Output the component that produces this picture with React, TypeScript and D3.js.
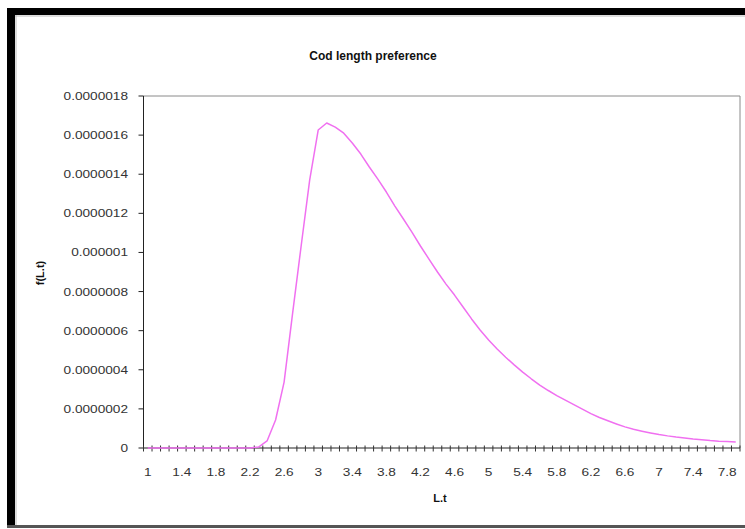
import React from "react";
import * as d3 from "d3";

// Length classes (category axis)
const categories: number[] = [
  1.0, 1.1, 1.2, 1.3, 1.4, 1.5, 1.6, 1.7, 1.8, 1.9,
  2.0, 2.1, 2.2, 2.3, 2.4, 2.5, 2.6, 2.7, 2.8, 2.9,
  3.0, 3.1, 3.2, 3.3, 3.4, 3.5, 3.6, 3.7, 3.8, 3.9,
  4.0, 4.1, 4.2, 4.3, 4.4, 4.5, 4.6, 4.7, 4.8, 4.9,
  5.0, 5.1, 5.2, 5.3, 5.4, 5.5, 5.6, 5.7, 5.8, 5.9,
  6.0, 6.1, 6.2, 6.3, 6.4, 6.5, 6.6, 6.7, 6.8, 6.9,
  7.0, 7.1, 7.2, 7.3, 7.4, 7.5, 7.6, 7.7, 7.8, 7.9,
];

// Preference f(L.t), in units of 1e-6
const preferenceMicro: number[] = [
  0, 0, 0, 0, 0, 0, 0, 0, 0, 0,
  0, 0, 0, 0.005, 0.036, 0.143, 0.337, 0.69, 1.033, 1.37,
  1.626, 1.662, 1.641, 1.61, 1.56, 1.503, 1.437, 1.375, 1.309, 1.237,
  1.171, 1.104, 1.033, 0.966, 0.9, 0.838, 0.782, 0.721, 0.66, 0.603,
  0.552, 0.506, 0.464, 0.425, 0.388, 0.354, 0.322, 0.294, 0.268, 0.245,
  0.222, 0.199, 0.176, 0.156, 0.139, 0.123, 0.108, 0.096, 0.086, 0.077,
  0.069, 0.062, 0.056, 0.051, 0.046, 0.042, 0.038, 0.035, 0.033, 0.031,
];

const yTickValues: number[] = [0, 2e-7, 4e-7, 6e-7, 8e-7, 1e-6, 1.2e-6, 1.4e-6, 1.6e-6, 1.8e-6];
const yTickLabels: string[] = [
  "0", "0.0000002", "0.0000004", "0.0000006", "0.0000008",
  "0.000001", "0.0000012", "0.0000014", "0.0000016", "0.0000018",
];
const xLabelEvery = 4;

const W = 745;
const H = 529;
const plot = { left: 143.5, right: 740, top: 96, bottom: 448 };
const FONT = "'Liberation Sans', Arial, sans-serif";
const STRETCH = 1.3;

export default function App() {
  const values = preferenceMicro.map((v) => v * 1e-6);

  const step = (plot.right - plot.left) / categories.length;
  const x = (i: number) => plot.left + step * (i + 0.5);
  const y = d3.scaleLinear().domain([0, 1.8e-6]).range([plot.bottom, plot.top]);

  const line = d3
    .line<number>()
    .x((_, i) => x(i))
    .y((d) => y(d));

  const boundaries = d3.range(categories.length + 1).map((k) => plot.left + step * k);

  return (
    <svg
      width={W}
      height={H}
      style={{ position: "absolute", left: 0, top: 0, background: "#fff" }}
      fontFamily={FONT}
    >
      {/* outer frame */}
      <rect x={7} y={8} width={W - 7} height={520} fill="#000" />
      <rect x={15} y={15} width={W - 15} height={510} fill="#fff" />
      <line x1={15} x2={W} y1={16} y2={16} stroke="#bbb" strokeWidth={1} />
      <line x1={16} x2={16} y1={15} y2={525} stroke="#bbb" strokeWidth={1} />
      <rect x={7} y={525} width={W - 7} height={3} fill="#555" />

      {/* title */}
      <text x={373} y={60} textAnchor="middle" fontSize={12} fontWeight="bold" fill="#111">
        Cod length preference
      </text>

      {/* plot border */}
      <line x1={plot.left} x2={plot.right} y1={plot.top} y2={plot.top} stroke="#8a8a8a" />
      <line x1={plot.right} x2={plot.right} y1={plot.top} y2={plot.bottom} stroke="#8a8a8a" />

      {/* y axis */}
      <line x1={plot.left} x2={plot.left} y1={plot.top} y2={plot.bottom} stroke="#222" />
      {yTickValues.map((v, i) => (
        <g key={"yt" + i}>
          <line x1={plot.left - 5} x2={plot.left} y1={y(v)} y2={y(v)} stroke="#222" />
          <g transform={`translate(${128},${y(v) + 4}) scale(${STRETCH},1)`}>
            <text textAnchor="end" fontSize={10.5} fill="#333">
              {yTickLabels[i]}
            </text>
          </g>
        </g>
      ))}

      {/* x axis */}
      <line x1={plot.left} x2={plot.right} y1={plot.bottom} y2={plot.bottom} stroke="#222" />
      {boundaries.map((bx, k) => (
        <line key={"xt" + k} x1={bx} x2={bx} y1={plot.bottom - 2.5} y2={plot.bottom + 3.5} stroke="#333" />
      ))}
      {categories.map((c, i) =>
        i % xLabelEvery === 0 ? (
          <g key={"xl" + i} transform={`translate(${x(i)},${476}) scale(${STRETCH},1)`}>
            <text textAnchor="middle" fontSize={10.5} fill="#333">
              {d3.format("~g")(c)}
            </text>
          </g>
        ) : null
      )}

      {/* axis titles */}
      <text x={440} y={502} textAnchor="middle" fontSize={11} fontWeight="bold" fill="#111">
        L.t
      </text>
      <text
        transform={`translate(${44},${273}) rotate(-90)`}
        textAnchor="middle"
        fontSize={11}
        fontWeight="bold"
        fill="#111"
      >
        f(L.t)
      </text>

      {/* preference curve */}
      <path d={line(values) ?? ""} fill="none" stroke="#f070f0" strokeWidth={1.5} strokeLinejoin="round" />
    </svg>
  );
}
